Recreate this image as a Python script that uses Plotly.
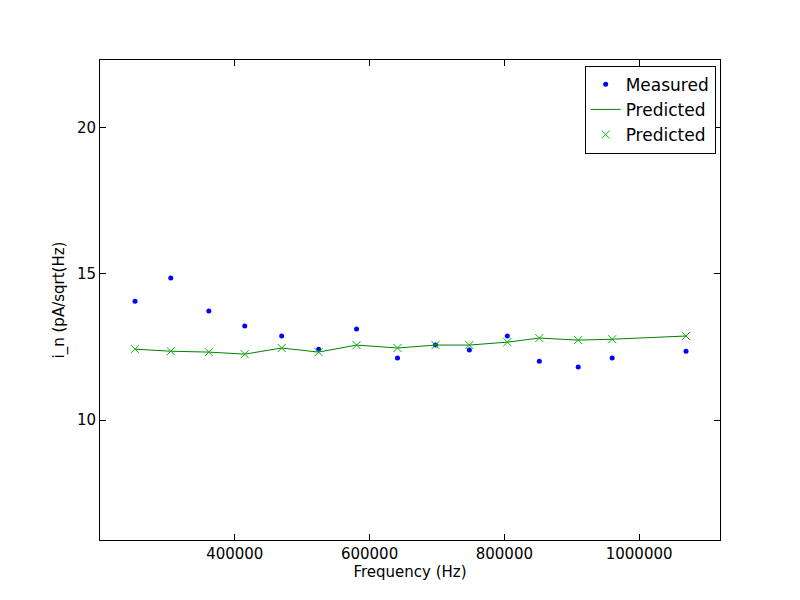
import plotly.graph_objects as go

freq = [252000, 305000, 361500, 414800, 469600, 524400, 580700, 641500, 697800, 748100, 804400, 851900, 909600, 960000, 1069600]
measured = [14.06, 14.85, 13.72, 13.21, 12.87, 12.42, 13.11, 12.12, 12.56, 12.39, 12.87, 12.01, 11.81, 12.12, 12.35]
predicted = [12.42, 12.35, 12.32, 12.25, 12.46, 12.32, 12.56, 12.46, 12.56, 12.56, 12.66, 12.80, 12.73, 12.76, 12.87]

fig = go.Figure()
fig.add_trace(go.Scatter(x=freq, y=measured, mode="markers", name="Measured",
                         marker=dict(color="blue", size=5)))
fig.add_trace(go.Scatter(x=freq, y=predicted, mode="lines", name="Predicted",
                         line=dict(color="green", width=1)))
fig.add_trace(go.Scatter(x=freq, y=predicted, mode="markers", name="Predicted",
                         marker=dict(color="#00bb00", symbol="x-thin", size=8,
                                     line=dict(color="#00bb00", width=1))))

axis = dict(showgrid=False, zeroline=False, showline=True, linecolor="black", mirror="ticks",
            ticks="inside", ticklen=6, tickcolor="black", tickfont=dict(size=15, color="black"))
fig.update_layout(
    width=800, height=600, plot_bgcolor="white", paper_bgcolor="white",
    margin=dict(l=92, r=88, t=52, b=68),
    font=dict(family="DejaVu Sans", color="black"),
    xaxis=dict(axis, range=[200000, 1120000], tickvals=[400000, 600000, 800000, 1000000],
               ticktext=["400000", "600000", "800000", "1000000"],
               title=dict(text="Frequency (Hz)", font=dict(size=15), standoff=4)),
    yaxis=dict(axis, range=[5.9, 22.3], tickvals=[10, 15, 20],
               title=dict(text="i_n (pA/sqrt(Hz)", font=dict(size=15), standoff=8)),
    legend=dict(x=0.993, y=0.988, xanchor="right", yanchor="top", bordercolor="black",
                borderwidth=1, bgcolor="white", font=dict(size=17), tracegroupgap=0,
                itemwidth=30),
)
fig.write_html("out.html")
